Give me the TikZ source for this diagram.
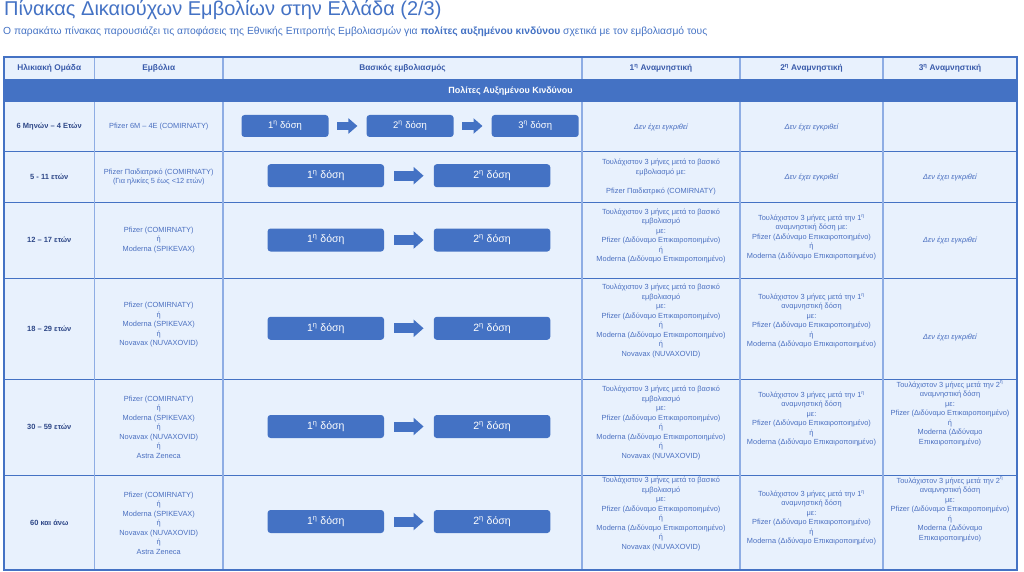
\documentclass[tikz,border=0pt]{standalone}
\usepackage{fontspec}
\setmainfont{Liberation Sans}
\usetikzlibrary{arrows.meta, positioning}
\definecolor{dblue}{HTML}{4472C4}
\definecolor{cellbg}{HTML}{E8F1FD}
\definecolor{gridln}{HTML}{8EADE4}
\definecolor{agetxt}{HTML}{2E4787}
\definecolor{headtxt}{HTML}{3A5BAA}
\definecolor{celltxt}{HTML}{4A6FC0}

\begin{document}
\begin{tikzpicture}[x=1pt, y=-1pt,
    cell/.style={align=center, font=\fontsize{7.4}{9.5}\selectfont, text=celltxt, inner sep=0pt},
    agecell/.style={cell, font=\fontsize{7.5}{9.5}\selectfont\bfseries, text=agetxt},
    head/.style={cell, font=\fontsize{8.3}{9}\selectfont\bfseries, text=headtxt},
    nyet/.style={cell, font=\fontsize{7.4}{9.5}\selectfont\itshape},
    dose/.style={fill=dblue, rounded corners=3pt, text=white, inner sep=0pt},
    dosesm/.style={dose, minimum width=87pt, minimum height=22pt, font=\fontsize{9.5}{10}\selectfont},
    doselg/.style={dose, minimum width=116.5pt, minimum height=23pt, font=\fontsize{10.5}{12}\selectfont},
    flowsm/.style={dblue, line width=8.5pt, -{Triangle[width=15pt, length=9pt]}, shorten <=8.5pt, shorten >=9pt},
    flow/.style={dblue, line width=10pt, -{Triangle[width=17pt, length=10pt]}, shorten <=10pt, shorten >=10pt}
  ]
  \useasboundingbox (0,0) rectangle (1024,572);

  % title
  \node[anchor=base west, inner sep=0pt, font=\fontsize{20}{22}\selectfont, text=dblue] (title) at (4,16)
    {Πίνακας Δικαιούχων Εμβολίων στην Ελλάδα (2/3)};
  \node[anchor=base west, inner sep=0pt, font=\fontsize{10.3}{11}\selectfont, text=dblue] (subtitle) at (3,35)
    {Ο παρακάτω πίνακας παρουσιάζει τις αποφάσεις της Εθνικής Επιτροπής Εμβολιασμών για \textbf{πολίτες αυξημένου κινδύνου} σχετικά με τον εμβολιασμό τους};

  % table body
  \fill[cellbg] (4,57) rectangle (1017,570);
  \fill[dblue] (4,79.5) rectangle (1017,102);
  \foreach \y in {151.5,202,278,379,475}
    \draw[dblue, line width=0.9pt] (4,\y) -- (1017,\y);
  \foreach \x in {94.5,223,582,740,883} {
    \draw[gridln, line width=1.2pt] (\x,57) -- (\x,79.5);
    \draw[gridln, line width=1.2pt] (\x,102) -- (\x,570);
  }
  \draw[dblue, line width=2pt] (4,57) rectangle (1017,570);

  % header
  \node[head] (h1) at (49.25,68) {Ηλικιακή Ομάδα};
  \node[head] (h2) at (158.75,68) {Εμβόλια};
  \node[head] (h3) at (402.5,68) {Βασικός εμβολιασμός};
  \node[head] (h4) at (661,68) {1\textsuperscript{η} Αναμνηστική};
  \node[head] (h5) at (811.5,68) {2\textsuperscript{η} Αναμνηστική};
  \node[head] (h6) at (950,68) {3\textsuperscript{η} Αναμνηστική};
  \node[head, font=\fontsize{9}{10}\selectfont\bfseries, text=white] (band) at (510.5,91) {Πολίτες Αυξημένου Κινδύνου};

  % 6 months - 4 years
  \node[agecell] (age1) at (49.25,127) {6 Μηνών – 4 Ετών};
  \node[cell] (vac1) at (158.75,127) {Pfizer 6M – 4E (COMIRNATY)};
  \node[dosesm] (a1) at (285,126) {1\textsuperscript{η} δόση};
  \node[dosesm, right=37.7pt of a1] (a2) {2\textsuperscript{η} δόση};
  \node[dosesm, right=37.7pt of a2] (a3) {3\textsuperscript{η} δόση};
  \draw[flowsm] (a1.east) -- (a2.west);
  \draw[flowsm] (a2.east) -- (a3.west);
  \node[nyet] (b1a) at (661,127) {Δεν έχει εγκριθεί};
  \node[nyet] (b1b) at (811.5,127) {Δεν έχει εγκριθεί};

  % 5 - 11
  \node[agecell] (age2) at (49.25,177) {5 - 11 ετών};
  \node[cell] (vac2) at (158.75,177) {Pfizer Παιδιατρικό (COMIRNATY)\\(Για ηλικίες 5 έως <12 ετών)};
  \node[doselg] (b1) at (325.8,175.7) {1\textsuperscript{η} δόση};
  \node[doselg, right=49.3pt of b1] (b2) {2\textsuperscript{η} δόση};
  \draw[flow] (b1.east) -- (b2.west);
  \node[cell] (b2a) at (661,177) {Τουλάχιστον 3 μήνες μετά το βασικό\\εμβολιασμό με:\\[9.4pt]Pfizer Παιδιατρικό (COMIRNATY)};
  \node[nyet] (b2b) at (811.5,177) {Δεν έχει εγκριθεί};
  \node[nyet] (b2c) at (950,177) {Δεν έχει εγκριθεί};

  % 12 - 17
  \node[agecell] (age3) at (49.25,240) {12 – 17 ετών};
  \node[cell] (vac3) at (158.75,240) {Pfizer (COMIRNATY)\\ή\\Moderna (SPIKEVAX)};
  \node[doselg] (c1) at (325.8,240) {1\textsuperscript{η} δόση};
  \node[doselg, right=49.3pt of c1] (c2) {2\textsuperscript{η} δόση};
  \draw[flow] (c1.east) -- (c2.west);
  \node[cell] (b3a) at (661,236) {Τουλάχιστον 3 μήνες μετά το βασικό\\εμβολιασμό\\με:\\Pfizer (Διδύναμο Επικαιροποιημένο)\\ή\\Moderna (Διδύναμο Επικαιροποιημένο)};
  \node[cell] (b3b) at (811.5,237) {Τουλάχιστον 3 μήνες μετά την 1\textsuperscript{η}\\αναμνηστική δόση με:\\Pfizer (Διδύναμο Επικαιροποιημένο)\\ή\\Moderna (Διδύναμο Επικαιροποιημένο)};
  \node[nyet] (b3c) at (950,240) {Δεν έχει εγκριθεί};

  % 18 - 29
  \node[agecell] (age4) at (49.25,329) {18 – 29 ετών};
  \node[cell] (vac4) at (158.75,325) {Pfizer (COMIRNATY)\\ή\\Moderna (SPIKEVAX)\\ή\\Novavax (NUVAXOVID)};
  \node[doselg] (d1) at (325.8,328.3) {1\textsuperscript{η} δόση};
  \node[doselg, right=49.3pt of d1] (d2) {2\textsuperscript{η} δόση};
  \draw[flow] (d1.east) -- (d2.west);
  \node[cell] (b4a) at (661,321) {Τουλάχιστον 3 μήνες μετά το βασικό\\εμβολιασμό\\με:\\Pfizer (Διδύναμο Επικαιροποιημένο)\\ή\\Moderna (Διδύναμο Επικαιροποιημένο)\\ή\\Novavax (NUVAXOVID)};
  \node[cell] (b4b) at (811.5,321) {Τουλάχιστον 3 μήνες μετά την 1\textsuperscript{η}\\αναμνηστική δόση\\με:\\Pfizer (Διδύναμο Επικαιροποιημένο)\\ή\\Moderna (Διδύναμο Επικαιροποιημένο)};
  \node[nyet] (b4c) at (950,337) {Δεν έχει εγκριθεί};

  % 30 - 59
  \node[agecell] (age5) at (49.25,427) {30 – 59 ετών};
  \node[cell] (vac5) at (158.75,427) {Pfizer (COMIRNATY)\\ή\\Moderna (SPIKEVAX)\\ή\\Novavax (NUVAXOVID)\\ή\\Astra Zeneca};
  \node[doselg] (e1) at (325.8,426.5) {1\textsuperscript{η} δόση};
  \node[doselg, right=49.3pt of e1] (e2) {2\textsuperscript{η} δόση};
  \draw[flow] (e1.east) -- (e2.west);
  \node[cell] (b5a) at (661,423) {Τουλάχιστον 3 μήνες μετά το βασικό\\εμβολιασμό\\με:\\Pfizer (Διδύναμο Επικαιροποιημένο)\\ή\\Moderna (Διδύναμο Επικαιροποιημένο)\\ή\\Novavax (NUVAXOVID)};
  \node[cell] (b5b) at (811.5,419) {Τουλάχιστον 3 μήνες μετά την 1\textsuperscript{η}\\αναμνηστική δόση\\με:\\Pfizer (Διδύναμο Επικαιροποιημένο)\\ή\\Moderna (Διδύναμο Επικαιροποιημένο)};
  \node[cell, anchor=north] (b5c) at (950,381) {Τουλάχιστον 3 μήνες μετά την 2\textsuperscript{η}\\αναμνηστική δόση\\με:\\Pfizer (Διδύναμο Επικαιροποιημένο)\\ή\\Moderna (Διδύναμο\\Επικαιροποιημένο)};

  % 60+
  \node[agecell] (age6) at (49.25,523) {60 και άνω};
  \node[cell] (vac6) at (158.75,523) {Pfizer (COMIRNATY)\\ή\\Moderna (SPIKEVAX)\\ή\\Novavax (NUVAXOVID)\\ή\\Astra Zeneca};
  \node[doselg] (f1) at (325.8,521.5) {1\textsuperscript{η} δόση};
  \node[doselg, right=49.3pt of f1] (f2) {2\textsuperscript{η} δόση};
  \draw[flow] (f1.east) -- (f2.west);
  \node[cell] (b6a) at (661,514) {Τουλάχιστον 3 μήνες μετά το βασικό\\εμβολιασμό\\με:\\Pfizer (Διδύναμο Επικαιροποιημένο)\\ή\\Moderna (Διδύναμο Επικαιροποιημένο)\\ή\\Novavax (NUVAXOVID)};
  \node[cell] (b6b) at (811.5,518) {Τουλάχιστον 3 μήνες μετά την 1\textsuperscript{η}\\αναμνηστική δόση\\με:\\Pfizer (Διδύναμο Επικαιροποιημένο)\\ή\\Moderna (Διδύναμο Επικαιροποιημένο)};
  \node[cell, anchor=north] (b6c) at (950,477) {Τουλάχιστον 3 μήνες μετά την 2\textsuperscript{η}\\αναμνηστική δόση\\με:\\Pfizer (Διδύναμο Επικαιροποιημένο)\\ή\\Moderna (Διδύναμο\\Επικαιροποιημένο)};
\end{tikzpicture}
\end{document}
